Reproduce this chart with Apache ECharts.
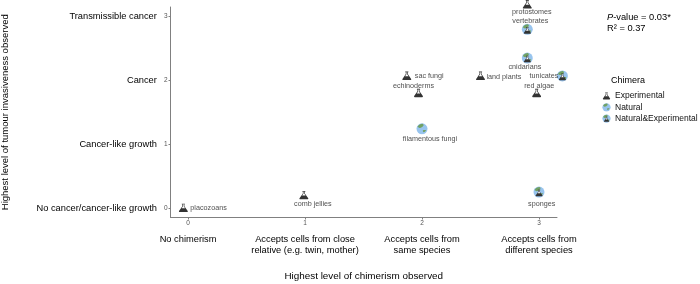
<!DOCTYPE html>
<html><head><meta charset="utf-8">
<style>html,body{margin:0;padding:0;background:#fff}#c{width:700px;height:284px}</style>
<script src="https://cdn.jsdelivr.net/npm/echarts@6/dist/echarts.min.js"></script>
</head><body><div id="c"></div>
<script>
const xTickLabels = ['No chimerism','Accepts cells from close\nrelative (e.g. twin, mother)','Accepts cells from\nsame species','Accepts cells from\ndifferent species'];
const yTickLabels = ['No cancer/cancer-like growth','Cancer-like growth','Cancer','Transmissible cancer'];
const tickValues = [0,1,2,3];
const experimental = [
  ['placozoans',-0.04,0],['comb jellies',0.99,0.2],['sac fungi',1.87,2.07],
  ['echinoderms',1.97,1.8],['land plants',2.5,2.07],['red algae',2.98,1.8],
  ['protostomes',2.9,3.19]
];
const natural = [['filamentous fungi',2,1.24]];
const naturalExperimental = [
  ['sponges',3,0.25],['vertebrates',2.9,2.8],['cnidarians',2.9,2.35],['tunicates',3.2,2.07]
];
// label placement, separate from the data: [position, dx, dy]
const labelPlace = {
  'placozoans':['right',-0.5,0.5],'comb jellies':['bottom',9,-0.5],'sac fungi':['right',0.5,0],
  'echinoderms':['top',-5,1.5],'land plants':['right',-1.5,1],'red algae':['top',2.5,1.5],
  'protostomes':['bottom',4.5,-1.5],'filamentous fungi':['bottom',8,1],'sponges':['bottom',2.7,2],
  'vertebrates':['top',3,1],'cnidarians':['bottom',-2.4,-0.5],'tunicates':['left',2,0]
};
const flask = 'M8.500 2.500h7v1.500h-1.300v4l7.300 10.500c.6 1.100 0 2.500-1.300 2.500H3.800c-1.300 0-1.900-1.400-1.300-2.500L9.800 8V4H8.500z';
const flaskInner = 'M11.200 4h1.600v4.400l3 4.300H8.200l3-4.300z';
const globe = '<circle cx="12" cy="12" r="11" fill="#7fb6ea"/><path d="M3 8c2-4 6-6 10-6 2 1 3 3 1 5-2 1-3 3-5 3-2 1-4 0-6-2zM14 15c2-1 5-1 6 0-1 2-3 4-5 4-1-1-2-3-1-4z" fill="#4e8a3c"/>';
const svg = b => 'image://data:image/svg+xml,' + encodeURIComponent('<svg xmlns="http://www.w3.org/2000/svg" width="48" height="48" viewBox="0 0 24 24">' + b + '</svg>');
const flaskSvg = '<path d="'+flask+'" fill="#000"/><path d="'+flaskInner+'" fill="#fff"/>';
const symExp = svg(flaskSvg);
const symNat = svg(globe);
const symBoth = svg(globe + '<g transform="translate(3.500 5.500) scale(.72)">'+flaskSvg+'</g>');
const ff = 'Liberation Sans';
const mk = (name, rows, sym, size) => ({
  name, type:'scatter', symbol:sym, symbolSize:size, clip:false,
  data: rows.map(r => { const p = labelPlace[r[0]]; return {name:r[0], value:[r[1],r[2]],
    label:{show:true, position:p[0], distance:p[0]==='right'?2:0, offset:[p[1],p[2]], formatter:'{b}', fontSize:7.2, color:'#1a1a1a', fontFamily:ff}}; })
});
const chart = echarts.init(document.getElementById('c'), null, {renderer:'canvas'});
const axisLine = {lineStyle:{color:'#808080',width:1}};
const tick = {length:2, lineStyle:{color:'#808080'}, customValues:tickValues};
chart.setOption({
  animation:false,
  textStyle:{fontFamily:ff},
  grid:{left:170.5,right:143,top:7,bottom:66.5,outerBoundsMode:'none'},
  title:[
    {left:607,top:12,padding:0,text:'{i|P}{n|-value = 0.03*}\n{n|R² = 0.37}',textStyle:{fontWeight:'normal',rich:{i:{fontStyle:'italic',fontWeight:'normal',fontSize:9.300,fontFamily:ff,color:'#000',lineHeight:11},n:{fontWeight:'normal',fontSize:9.300,fontFamily:ff,color:'#000',lineHeight:11}}}},
    {left:611,top:76,padding:0,text:'Chimera',textStyle:{fontSize:9,fontWeight:'normal',color:'#000',fontFamily:ff}}
  ],
  legend:{orient:'vertical',left:602,top:91.500,padding:0,itemWidth:9,itemHeight:9,itemGap:2.300,
    textStyle:{fontSize:8.500,color:'#111',fontFamily:ff,padding:[0,0,0,-1]},
    data:[{name:'Experimental',icon:symExp},{name:'Natural',icon:symNat},{name:'Natural&Experimental',icon:symBoth}]},
  xAxis:{type:'value',min:-0.15,max:3.154,splitLine:{show:false},axisLine:{...axisLine,onZero:false},axisTick:tick,
    name:'Highest level of chimerism observed',nameLocation:'middle',nameGap:54,nameTextStyle:{fontSize:9.900,color:'#000',fontFamily:ff},
    axisLabel:{customValues:tickValues,margin:1.500,lineHeight:11,
      formatter:v=>'{n|'+v+'}\n{g|}\n'+xTickLabels[v].split('\n').map(s=>'{t|'+s+'}').join('\n'),
      rich:{n:{fontSize:6.500,color:'#555',lineHeight:8,fontFamily:ff},g:{fontSize:4,lineHeight:7},t:{fontSize:9.300,color:'#000',lineHeight:11,fontFamily:ff}}}},
  yAxis:{type:'value',min:-0.149,max:3.15,splitLine:{show:false},axisLine:{...axisLine,onZero:false},axisTick:tick,
    name:'Highest level of tumour invasiveness observed',nameLocation:'middle',nameGap:160,nameTextStyle:{fontSize:9.500,color:'#000',fontFamily:ff},
    axisLabel:{customValues:tickValues,margin:3,align:'right',
      formatter:v=>'{t|'+yTickLabels[v]+'}{n|'+v+'}',
      rich:{n:{fontSize:6.500,color:'#555',padding:[0,0,0,7],fontFamily:ff},t:{fontSize:9.300,color:'#000',fontFamily:ff}}}},
  series:[
    mk('Experimental',experimental,symExp,11),
    mk('Natural',natural,symNat,12),
    mk('Natural&Experimental',naturalExperimental,symBoth,12)
  ]
});
</script></body></html>
